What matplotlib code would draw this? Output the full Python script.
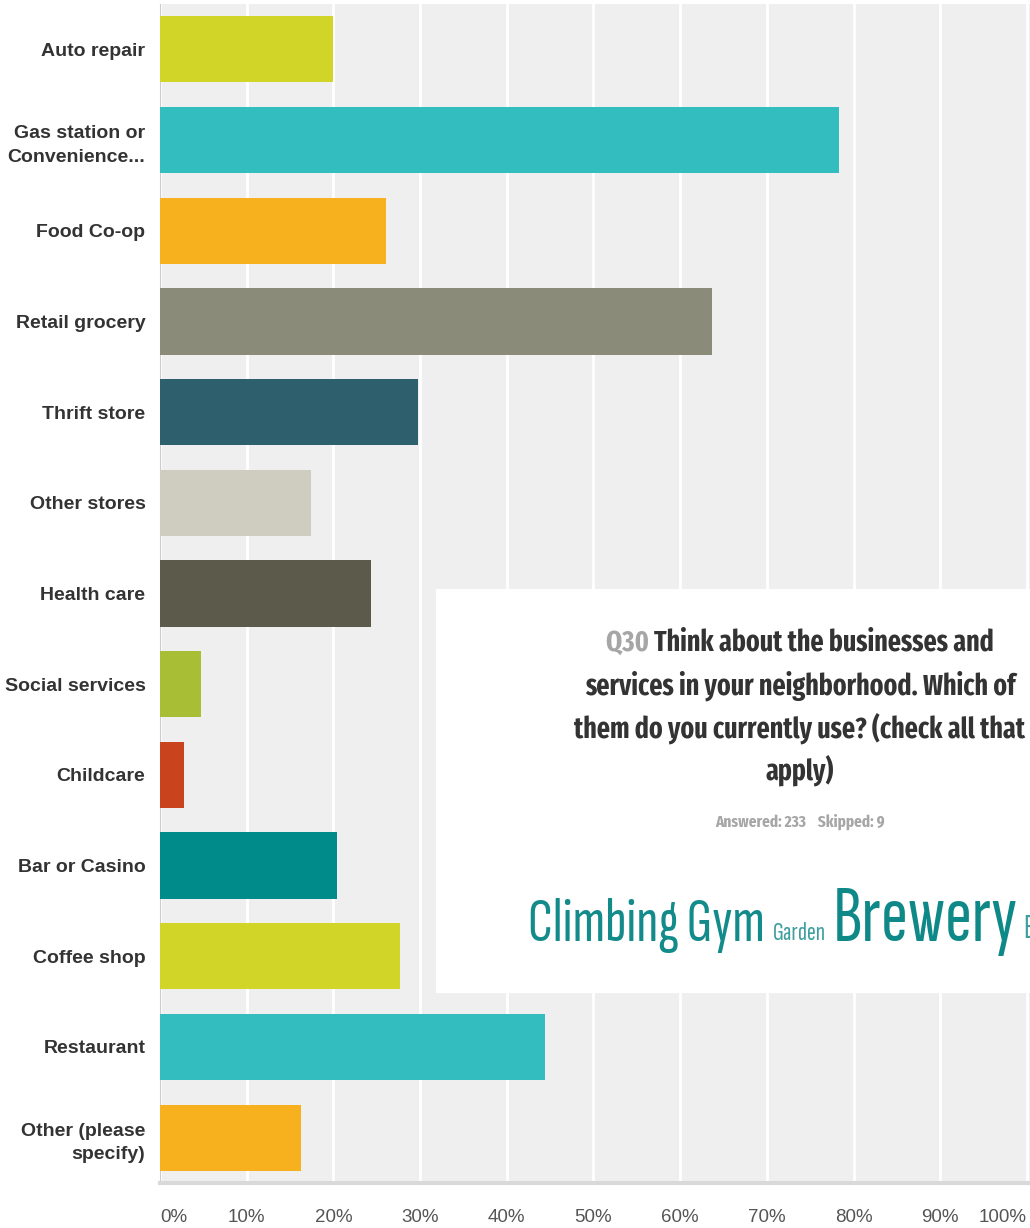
import matplotlib
matplotlib.use('Agg')
import matplotlib.pyplot as plt
from matplotlib.patches import Rectangle
import numpy as np

categories = ['Auto repair', 'Gas station or\nConvenience...', 'Food Co-op', 'Retail grocery',
              'Thrift store', 'Other stores', 'Health care', 'Social services', 'Childcare',
              'Bar or Casino', 'Coffee shop', 'Restaurant', 'Other (please\nspecify)']
values = [20.0, 78.3, 26.1, 63.7, 29.8, 17.4, 24.3, 4.7, 2.8, 20.4, 27.7, 44.4, 16.3]
colors = ['#d0d527', '#33bdbf', '#f7b11e', '#8a8b79', '#2d5f6c', '#cfcdc0', '#5c5b4b',
          '#a8bf35', '#c9441c', '#008b8b', '#d0d527', '#33bdbf', '#f7b11e']
ticks = [0, 10, 20, 30, 40, 50, 60, 70, 80, 90, 100]

question_no = 'Q30'
question = ['Think about the businesses and',
            'services in your neighborhood. Which of',
            'them do you currently use? (check all that',
            'apply)']
answered, skipped = 233, 9
cloud_words = ['Climbing Gym', 'Garden', 'Brewery', 'B']

W, H = 1030, 1228
TITLE_FONT = ['Fira Sans Extra Condensed', 'Roboto Condensed', 'Liberation Sans']
CLOUD_FONT = ['Sofia Sans Extra Condensed', 'Roboto Condensed', 'Liberation Sans']

fig = plt.figure(figsize=(W / 100, H / 100), dpi=100)
ax = fig.add_axes([160 / W, 45 / H, 870 / W, 1179 / H])
ax.set_facecolor('#efefef')
y = np.arange(len(categories))
ax.barh(y, values, height=0.73, color=colors, zorder=3)
ax.set_ylim(len(categories) - 0.5, -0.5)
ax.set_xlim(0, 100.35)
ax.set_xticks(ticks)
ax.set_xticklabels([f'{t}%' for t in ticks], family='Liberation Sans', fontsize=13.5,
                   color='#555555')
ax.set_yticks(y)
ax.set_yticklabels(categories, family='Liberation Sans', fontsize=14, fontweight='bold',
                   color='#333333', linespacing=1.5)
ax.tick_params(axis='y', length=0, pad=10.5)
ax.tick_params(axis='x', length=0, pad=18.5)
labs = ax.get_xticklabels()
labs[0].set_ha('left')
labs[-1].set_ha('right')
ax.grid(axis='x', color='white', linewidth=2, zorder=1)
for s in ['top', 'right']:
    ax.spines[s].set_visible(False)
ax.spines['left'].set_color('#cccccc')
ax.spines['bottom'].set_color('#d9d9d9')
ax.spines['bottom'].set_linewidth(3)

# white overlay panel with the question and word cloud
fig.add_artist(Rectangle((436 / W, 1 - 993 / H), 600 / W, 404 / H, transform=fig.transFigure,
                         facecolor='white', edgecolor='none', zorder=5))

renderer = fig.canvas.get_renderer()


def put(x, y, s, width=None, **kw):
    t = fig.text(x / W, 1 - y / H, s, zorder=6, **kw)
    if width is not None:
        w = t.get_window_extent(renderer).width
        t.set_fontsize(t.get_fontsize() * width / w)
    return t


def px_width(t):
    return t.get_window_extent(renderer).width


# title lines, centred at x=800
line_y = [643, 686, 728, 770]
first = put(0, line_y[0], question_no + ' ' + question[0], width=388, family=TITLE_FONT,
            fontweight='bold', fontsize=20, va='center')
size = first.get_fontsize()
first.remove()
q = put(0, line_y[0], question_no + ' ', family=TITLE_FONT, fontweight='bold', fontsize=size,
        va='center', color='#a6a6a6')
rest = put(0, line_y[0], question[0], family=TITLE_FONT, fontweight='bold', fontsize=size,
           va='center', color='#333333')
x0 = 800 - (px_width(q) + px_width(rest)) / 2
q.set_x(x0 / W)
rest.set_x((x0 + px_width(q)) / W)
for line, ly in zip(question[1:], line_y[1:]):
    put(800, ly, line, family=TITLE_FONT, fontweight='bold', fontsize=size, va='center',
        ha='center', color='#333333')

put(800, 822, f'Answered: {answered}    Skipped: {skipped}', width=171, family=TITLE_FONT,
    fontweight='bold', fontsize=10, va='center', ha='center', color='#a6a6a6')

# word cloud
put(528, 941, cloud_words[0], width=237, family=CLOUD_FONT, fontsize=40, va='baseline',
    color='#138b8b')
put(773, 940, cloud_words[1], width=53, family=CLOUD_FONT, fontsize=12, va='baseline',
    color='#3f9f9f')
put(833, 941, cloud_words[2], width=185, family=CLOUD_FONT, fontsize=50, va='baseline',
    color='#0f8888')
put(1023, 938, cloud_words[3], family=CLOUD_FONT, fontsize=24, va='baseline', color='#3f9f9f')

fig.savefig('out.png', dpi=100)
